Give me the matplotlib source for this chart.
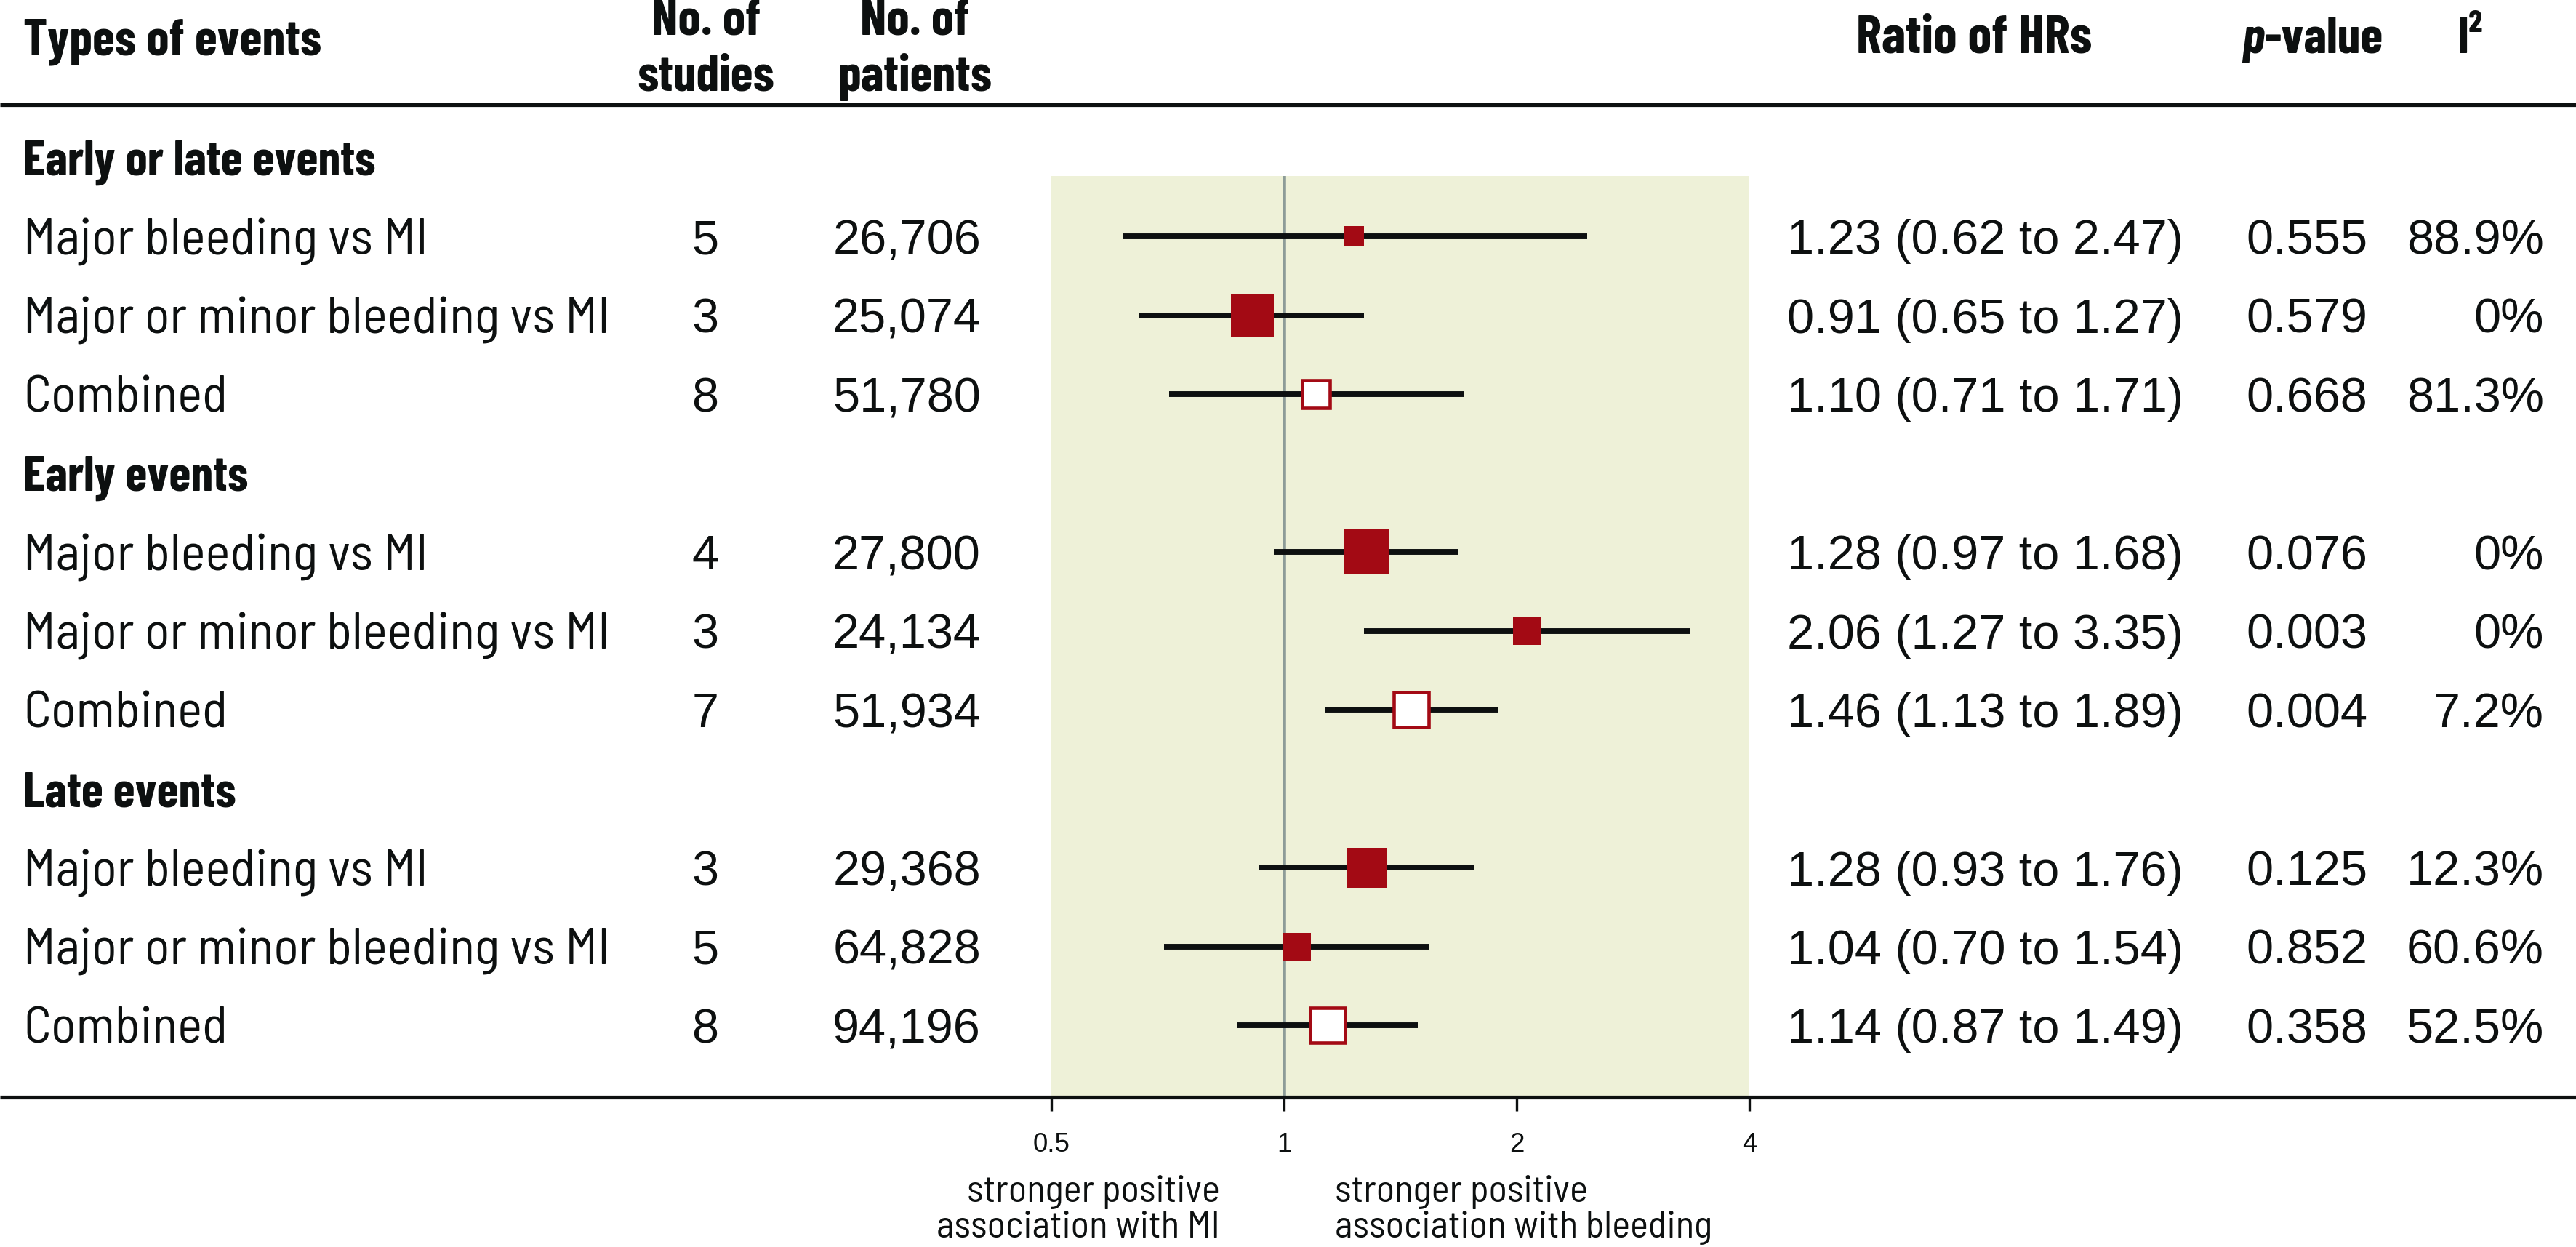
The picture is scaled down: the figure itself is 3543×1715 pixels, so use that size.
import matplotlib
matplotlib.use("Agg")
import matplotlib.pyplot as plt
from matplotlib import transforms
from matplotlib.ticker import NullLocator, FixedLocator, FixedFormatter

# ---------------- data ----------------
group_titles = ["Early or late events", "Early events", "Late events"]
event_types = ["Major bleeding vs MI", "Major or minor bleeding vs MI", "Combined"]
n_studies = [5, 3, 8, 4, 3, 7, 3, 5, 8]
n_patients = [26706, 25074, 51780, 27800, 24134, 51934, 29368, 64828, 94196]
ratio_hr = [1.23, 0.91, 1.10, 1.28, 2.06, 1.46, 1.28, 1.04, 1.14]
ci_low = [0.62, 0.65, 0.71, 0.97, 1.27, 1.13, 0.93, 0.70, 0.87]
ci_high = [2.47, 1.27, 1.71, 1.68, 3.35, 1.89, 1.76, 1.54, 1.49]
p_values = ["0.555", "0.579", "0.668", "0.076", "0.003", "0.004", "0.125", "0.852", "0.358"]
i_squared = ["88.9%", "0%", "81.3%", "0%", "0%", "7.2%", "12.3%", "60.6%", "52.5%"]
x_ticks = [0.5, 1, 2, 4]
left_note = ["stronger positive", "association with MI"]
right_note = ["stronger positive", "association with bleeding"]

# ---------------- style ----------------
marker_px = [28, 59, 42, 62, 38, 53, 55, 38, 53]
RED = "#A30A14"
INK = "#0d1010"
SHADE = "#EEF1D8"
REFLINE = "#8d9c98"
BODY = ["Barlow Semi Condensed", "DejaVu Sans"]
HEAD = ["Barlow Condensed", "DejaVu Sans"]
NUM = ["Liberation Sans", "DejaVu Sans"]

W, H = 3543, 1715
DPI = 300
fig = plt.figure(figsize=(W / DPI, H / DPI), dpi=DPI)
fig.patch.set_facecolor("white")

ROW0, ROWH = 217.0, 108.5   # pixel centre of first row and row pitch


def row(py):
    return (py - ROW0) / ROWH


def fx(px):
    return px / W


def fy(py):
    return 1 - py / H


AX_L, AX_R, AX_T, AX_B = 1446, 2406, 242, 1509
ax = fig.add_axes([fx(AX_L), fy(AX_B), (AX_R - AX_L) / W, (AX_B - AX_T) / H])
ax.set_facecolor(SHADE)
ax.set_xscale("log")
ax.set_xlim(x_ticks[0], x_ticks[-1])
ax.set_ylim(row(AX_B), row(AX_T))
for s in ax.spines.values():
    s.set_visible(False)
ax.set_yticks([])
ax.xaxis.set_major_locator(FixedLocator(x_ticks))
ax.xaxis.set_major_formatter(FixedFormatter([f"{t:g}" for t in x_ticks]))
ax.xaxis.set_minor_locator(NullLocator())
ax.tick_params(axis="x", direction="out", length=4.6, width=0.8, pad=7,
               labelsize=8.8, colors=INK)
for lab in ax.get_xticklabels():
    lab.set_family(NUM)

ax.axvline(1, color=REFLINE, lw=1.1, zorder=1)

blend = transforms.blended_transform_factory(fig.transFigure, ax.transData)

# horizontal rules across whole figure
for py in (144.5, AX_B):
    ax.plot([0, 1], [row(py), row(py)], transform=blend, color=INK, lw=1.25,
            clip_on=False, zorder=6, solid_capstyle="butt")

# header
hdr = dict(family=HEAD, weight="bold", color=INK, va="baseline", transform=blend,
           fontsize=17)
ax.text(fx(32), row(75), "Types of events", ha="left", **hdr)
ax.text(fx(971), row(48), "No. of", ha="center", **hdr)
ax.text(fx(971), row(125), "studies", ha="center", **hdr)
ax.text(fx(1258), row(48), "No. of", ha="center", **hdr)
ax.text(fx(1258), row(125), "patients", ha="center", **hdr)
ax.text(fx(2715), row(73), "Ratio of HRs", ha="center", **{**hdr, "fontsize": 17.8})
ax.text(fx(3114), row(73), "p", ha="right", style="italic", **hdr)
ax.text(fx(3114), row(73), "-value", ha="left", **hdr)
ax.text(fx(3380), row(73), "I\u00b2", ha="left", **hdr)

lab_kw = dict(family=BODY, color=INK, va="baseline", transform=blend, fontsize=17.3)
num_kw = dict(family=NUM, color=INK, va="baseline", transform=blend, fontsize=16)
BASE = 24 / ROWH

i = 0
for g, title in enumerate(group_titles):
    gy = 4 * g
    ax.text(fx(32), gy + BASE, title, ha="left",
            **{**lab_kw, "family": HEAD, "weight": "bold", "fontsize": 16.5})
    for j, name in enumerate(event_types):
        y = gy + j + 1
        ax.text(fx(32), y + BASE, name, ha="left", **lab_kw)
        ax.text(fx(970), y + BASE, f"{n_studies[i]}", ha="center", **num_kw)
        ax.text(fx(1349), y + BASE, f"{n_patients[i]:,}", ha="right", **num_kw)
        ax.text(fx(3003), y + BASE,
                f"{ratio_hr[i]:.2f} ({ci_low[i]:.2f} to {ci_high[i]:.2f})",
                ha="right", **num_kw)
        ax.text(fx(3256), y + BASE, p_values[i], ha="right", **num_kw)
        ax.text(fx(3499), y + BASE, i_squared[i], ha="right", **num_kw)

        ax.plot([ci_low[i], ci_high[i]], [y, y], color=INK, lw=1.9,
                solid_capstyle="butt", zorder=3)
        size_pt = marker_px[i] * 72 / DPI
        if j == 2:
            ax.plot([ratio_hr[i]], [y], marker="s", ls="none", mfc="white", mec=RED,
                    mew=1.1, ms=size_pt - 1.1, zorder=4)
        else:
            ax.plot([ratio_hr[i]], [y], marker="s", ls="none", mfc=RED, mec=RED,
                    mew=0, ms=size_pt, zorder=4)
        i += 1

note_kw = dict(family=BODY, color=INK, va="baseline", fontsize=12.7)
for k, py in enumerate((1653, 1702)):
    fig.text(fx(1678), fy(py), left_note[k], ha="right", **note_kw)
    fig.text(fx(1836), fy(py), right_note[k], ha="left", **note_kw)

fig.savefig("out.png", dpi=DPI, facecolor="white")
